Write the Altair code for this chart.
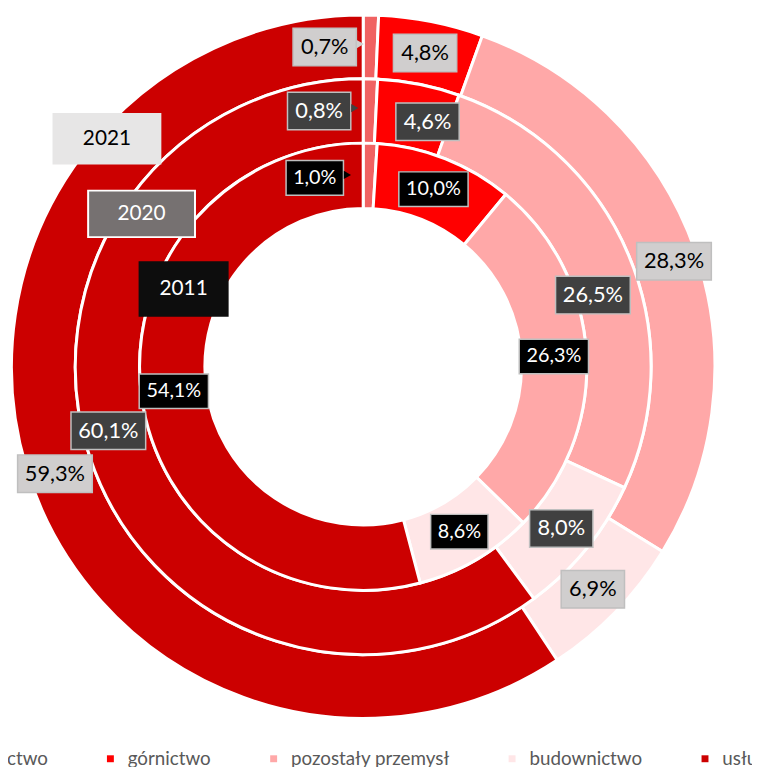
import altair as alt
import pandas as pd

# ---------------- data ----------------
CATEGORIES = ["rolnictwo", "górnictwo", "pozostały przemysł", "budownictwo", "usługi"]
YEARS = ["2021", "2020", "2011"]
VALUES_2021 = [0.7, 4.8, 28.3, 6.9, 59.3]
VALUES_2020 = [0.8, 4.6, 26.5, 8.0, 60.1]
VALUES_2011 = [1.0, 10.0, 26.3, 8.6, 54.1]

COLORS = ["#F06262", "#FF0000", "#FFA8A8", "#FFE6E7", "#CC0000"]

# ---------------- layout ----------------
W, H = 718, 717
CX, CY = W / 2, H / 2
FONT = "Lato"

# manual label nudges (pixels) as placed in the original chart
LABEL_NUDGE = {
    ("2021", "rolnictwo"): (-46, 0),
    ("2020", "rolnictwo"): (-51, 0),
    ("2011", "rolnictwo"): (-55, 2),
    ("2021", "pozostały przemysł"): (9, 0),
    ("2021", "usługi"): (-2, 15),
    ("2020", "górnictwo"): (15, 6),
    ("2020", "pozostały przemysł"): (-6, 28),
    ("2020", "usługi"): (-12, -16),
}

rows = []
for year, vals in zip(YEARS, [VALUES_2021, VALUES_2020, VALUES_2011]):
    for i, (c, v) in enumerate(zip(CATEGORIES, vals)):
        ndx, ndy = LABEL_NUDGE.get((year, c), (0, 0))
        rows.append({"year": year, "category": c, "order": i, "value": v,
                     "label": f"{v:.1f}%".replace(".", ","), "ndx": ndx, "ndy": ndy})
df = pd.DataFrame(rows)

RINGS = {"2011": (160, 226), "2020": (226, 291), "2021": (291, 355.5)}
STYLE = {
    "2021": dict(fill="#D0CECE", stroke="#BFBFBF", text="#000000", font=22, h=38, cw=11.5, pad=18),
    "2020": dict(fill="#404040", stroke="#BFBFBF", text="#FFFFFF", font=22, h=38, cw=11.5, pad=18),
    "2011": dict(fill="#000000", stroke="#BFBFBF", text="#FFFFFF", font=20, h=35, cw=12, pad=10),
}
# free-floating year boxes (centre x, centre y, width, height) in view pixels
YEAR_BOX = {
    "2021": dict(x=100, y=128, w=110, h=52, fill="#E7E6E6", stroke="#FFFFFF", sw=0, text="#000000"),
    "2020": dict(x=135, y=204, w=108, h=47, fill="#767171", stroke="#FFFFFF", sw=2, text="#FFFFFF"),
    "2011": dict(x=177.5, y=280, w=91, h=56, fill="#0D0D0D", stroke="#0D0D0D", sw=0, text="#FFFFFF"),
}

xs = alt.Scale(domain=[0, W], range=[0, W], nice=False, zero=False)
ys = alt.Scale(domain=[0, H], range=[0, H], nice=False, zero=False)

color = alt.Color(
    "category:N",
    scale=alt.Scale(domain=CATEGORIES, range=COLORS),
    sort=CATEGORIES,
    legend=alt.Legend(
        orient="none", legendX=-65, legendY=745, direction="horizontal", title=None,
        symbolType="square", symbolSize=49, symbolStrokeWidth=0,
        labelFont=FONT, labelFontSize=19, labelColor="#595959", labelLimit=400,
        columnPadding=53, labelOffset=8, padding=0,
    ),
)

arc_layers, label_layers = [], []
for year in YEARS:
    r0, r1 = RINGS[year]
    st = STYLE[year]
    rm = (r0 + r1) / 2
    base = alt.Chart(df).transform_filter(alt.datum.year == year)
    arc = base.mark_arc(innerRadius=r0, outerRadius=r1, stroke="white", strokeWidth=3).encode(
        theta=alt.Theta("value:Q", stack=True),
        order=alt.Order("order:Q"),
        color=color,
    )
    lab = (
        base.transform_window(cum="sum(value)", frame=[None, 0], sort=[alt.SortField("order")])
        .transform_joinaggregate(total="sum(value)")
        .transform_calculate(ang="(datum.cum - datum.value/2) / datum.total * 2 * PI")
        .transform_calculate(
            lx=f"{CX} + {rm} * sin(datum.ang) + datum.ndx",
            ly=f"{CY} - {rm} * cos(datum.ang) + datum.ndy",
            bw=f"length(datum.label) * {st['cw']} + {st['pad']}",
        )
        .transform_calculate(
            bx0="datum.lx - datum.bw/2", bx1="datum.lx + datum.bw/2",
            by0=f"datum.ly - {st['h'] / 2}", by1=f"datum.ly + {st['h'] / 2}",
            tx="datum.lx + datum.bw/2 + 4", ty="datum.ly - 3",
        )
    )
    box = lab.mark_rect(fill=st["fill"], stroke=st["stroke"], strokeWidth=1.5).encode(
        x=alt.X("bx0:Q", scale=xs, axis=None), x2="bx1:Q",
        y=alt.Y("by0:Q", scale=ys, axis=None), y2="by1:Q",
    )
    callout = lab.transform_filter(alt.datum.value < 2).mark_point(
        shape="triangle-right", filled=True, fill=st["fill"], size=70, opacity=1
    ).encode(x=alt.X("tx:Q", scale=xs, axis=None), y=alt.Y("ty:Q", scale=ys, axis=None))
    txt = lab.mark_text(font=FONT, fontSize=st["font"], color=st["text"], baseline="middle", align="center").encode(
        x=alt.X("lx:Q", scale=xs, axis=None), y=alt.Y("ly:Q", scale=ys, axis=None), text="label:N"
    )
    arc_layers.append(arc)
    label_layers += [box, callout, txt]

# year annotation boxes
ydf = pd.DataFrame({"year": YEARS})
year_layers = []
for year in YEARS:
    b = YEAR_BOX[year]
    yb = alt.Chart(ydf).transform_filter(alt.datum.year == year)
    year_layers.append(
        yb.mark_rect(fill=b["fill"], stroke=b["stroke"], strokeWidth=b["sw"]).encode(
            x=alt.value(b["x"] - b["w"] / 2), x2=alt.value(b["x"] + b["w"] / 2),
            y=alt.value(b["y"] - b["h"] / 2), y2=alt.value(b["y"] + b["h"] / 2),
        )
    )
    year_layers.append(
        yb.mark_text(font=FONT, fontSize=21, color=b["text"], baseline="middle", align="center").encode(
            x=alt.value(b["x"]), y=alt.value(b["y"]), text="year:N"
        )
    )

chart = (
    alt.layer(*(arc_layers + label_layers + year_layers))
    .resolve_scale(theta="independent")
    .properties(
        width=W, height=H,
        autosize=alt.AutoSizeParams(type="none"),
        padding={"left": 0, "top": 0, "right": 34, "bottom": 42},
        background="white",
    )
    .configure_view(stroke=None)
)

chart.save("out.html", embed_options={"renderer": "svg", "actions": False})
